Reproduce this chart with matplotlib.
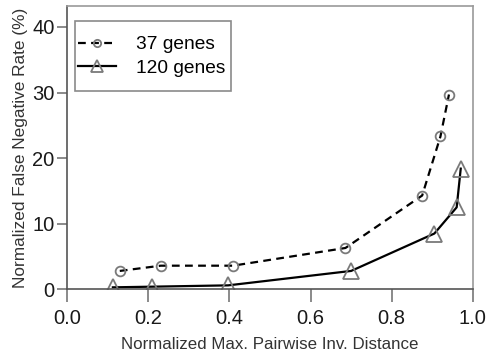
import matplotlib
matplotlib.use('Agg')
import matplotlib.pyplot as plt
from matplotlib.patches import Rectangle

plt.rcParams['font.family'] = ['Liberation Sans', 'DejaVu Sans']

# 37 genes (dashed, circles)
x37 = [0.130, 0.231, 0.409, 0.686, 0.875, 0.920, 0.941]
y37 = [2.8, 3.6, 3.6, 6.3, 14.3, 23.3, 29.7]

# 120 genes (solid, triangles)
x120 = [0.113, 0.210, 0.397, 0.700, 0.905, 0.960, 0.970]
y120 = [0.3, 0.4, 0.6, 2.8, 8.5, 12.5, 18.4]

xticks = [0.0, 0.2, 0.4, 0.6, 0.8, 1.0]
yticks = [0, 10, 20, 30, 40]

fig = plt.figure(figsize=(4.92, 3.6), dpi=100)
ax = fig.add_axes([0.1362, 0.1964, 0.825, 0.787])

marker_gray = '#7a7a7a'
ax.plot(x37, y37, color='black', linestyle=(0, (3.5, 2.4)), linewidth=1.6,
        marker='o', markersize=7, markerfacecolor='none',
        markeredgecolor=marker_gray, markeredgewidth=1.3, label='37 genes')
ax.plot(x120, y120, color='black', linestyle='-', linewidth=1.6,
        marker='^', markersize=11, markerfacecolor='none',
        markeredgecolor=marker_gray, markeredgewidth=1.3, label='120 genes')

ax.set_xlim(0, 1.0)
ax.set_ylim(0, 43.2)
ax.set_xticks(xticks)
ax.set_xticklabels(['%.1f' % v for v in xticks])
ax.set_yticks(yticks)

for s in ax.spines.values():
    s.set_color('#9a9a9a')
    s.set_linewidth(1.2)
ax.spines['bottom'].set_color('#555555')
ax.spines['left'].set_color('#555555')

ax.tick_params(axis='x', direction='out', length=9, width=1.2,
               color='#777777', labelsize=14.5, labelcolor='#1a1a1a', pad=5)
ax.tick_params(axis='y', direction='out', length=7, width=1.2,
               color='#777777', labelsize=14.5, labelcolor='#1a1a1a', pad=2)

ax.set_xlabel('Normalized Max. Pairwise Inv. Distance', fontsize=12.2,
              color='#333333', labelpad=7)
ax.set_ylabel('Normalized False Negative Rate (%)', fontsize=12.4,
              color='#333333', labelpad=3)

# legend without its own frame, box drawn separately
leg = ax.legend(loc='upper left', bbox_to_anchor=(78 / 492, 1 - 36 / 360),
                bbox_transform=fig.transFigure, fontsize=13.8, frameon=False,
                handlelength=2.0, borderpad=0.0, borderaxespad=0.0,
                labelspacing=0.3, handletextpad=1.0, markerscale=0.75)
fig.patches.append(Rectangle((75 / 492, 1 - 91 / 360), 156 / 492, 70 / 360,
                             transform=fig.transFigure, fill=False,
                             edgecolor='#8a8a8a', linewidth=1.2))

fig.savefig('out.png', dpi=100)
